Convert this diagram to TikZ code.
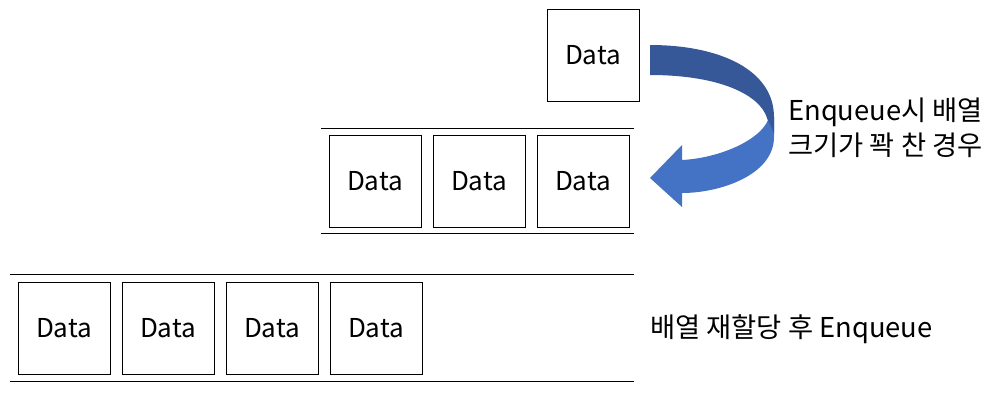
\documentclass[tikz,border=0pt]{standalone}
\usepackage{fontspec}
\setmainfont{Noto Sans CJK KR}
\definecolor{arrdark}{RGB}{54,88,152}
\definecolor{arrlight}{RGB}{68,114,196}
\begin{document}
\begin{tikzpicture}[x=0.75pt, y=-0.75pt, font=\fontsize{19.5}{26}\selectfont,
  box/.style={draw,line width=0.75pt,minimum size=69pt,inner sep=0pt}, rule/.style={line width=0.75pt},
  lbl/.style={anchor=west,align=left,inner sep=0pt,font=\fontsize{20.5}{26.25}\selectfont}]
  \useasboundingbox (0,0) rectangle (1001,394);
  \node[box] (top) at (593,55) {Data};
  \foreach \i in {1,2,3}\node[box] (m\i) at (271+\i*104,181){Data};
  \foreach \i in {1,...,4}\node[box] (b\i) at (-40+\i*104,328){Data};
  \draw[rule] (321,128)--(634,128); \draw[rule] (321,233)--(634,233);
  \draw[rule] (10,274)--(634,274); \draw[rule] (10,381)--(634,381);
  % curved arrow
  \fill[arrlight] (774,117) -- (774,137) .. controls (774,175) and (720,193) .. (682,193) -- (682,207) -- (650,178) -- (682,145) -- (682,160)
    .. controls (720,158) and (760,140) .. (768,120) -- (767,118) -- cycle;
  \fill[arrdark] (650,45) .. controls (720,45) and (774,70) .. (774,117) -- (774,133) -- (767,118) .. controls (760,95) and (720,75) .. (650,75) -- cycle;
  \node[lbl] (full) at (788,128) {Enqueue시 배열\\크기가 꽉 찬 경우};
  \node[lbl] (realloc) at (650,329) {배열 재할당 후 Enqueue};
\end{tikzpicture}
\end{document}
